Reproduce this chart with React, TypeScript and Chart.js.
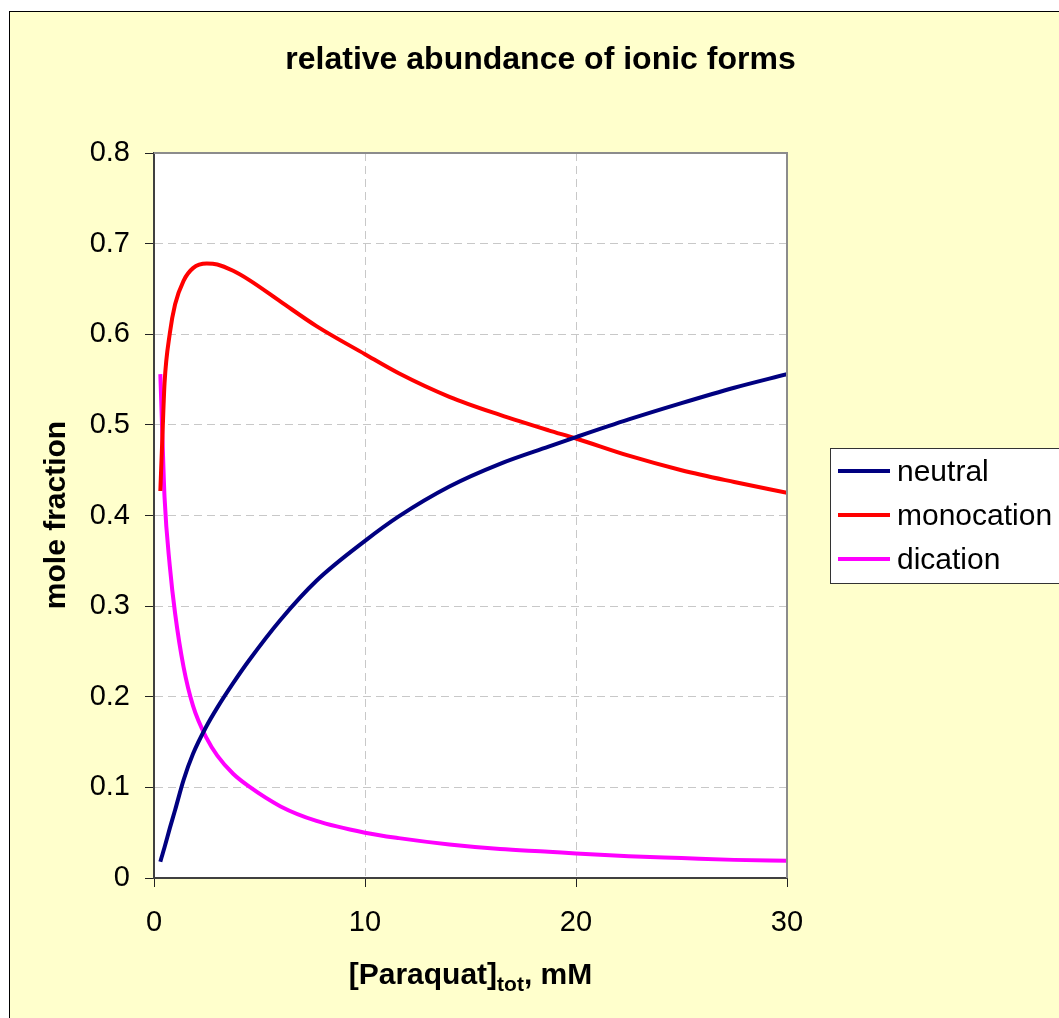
import React, { useEffect, useRef } from "react";
import { Chart, registerables } from "chart.js";

Chart.register(...registerables);

// ---------- data ----------
const concentrationMM = [0.3, 0.4, 0.5, 0.75, 1, 1.4, 1.85, 2.5, 3, 3.75, 4.5, 6, 7.7, 10, 11.6, 14, 16.4, 18.7, 20, 22.5, 25, 27.5, 30];
const neutralFraction = [0.018, 0.026, 0.034, 0.055, 0.075, 0.108, 0.137, 0.168, 0.188, 0.215, 0.24, 0.285, 0.328, 0.372, 0.399, 0.432, 0.457, 0.476, 0.4865, 0.506, 0.524, 0.541, 0.556];
const monocationFraction = [0.427, 0.488, 0.546, 0.601, 0.633, 0.659, 0.673, 0.678, 0.677, 0.67, 0.66, 0.636, 0.609, 0.578, 0.557, 0.531, 0.511, 0.494, 0.485, 0.466, 0.45, 0.437, 0.425];
const dicationFraction = [0.556, 0.486, 0.42, 0.344, 0.292, 0.233, 0.19, 0.154, 0.135, 0.115, 0.101, 0.079, 0.063, 0.05, 0.044, 0.037, 0.032, 0.029, 0.027, 0.024, 0.022, 0.02, 0.019];
const seriesLabels = ["neutral", "monocation", "dication"];
const seriesColors = ["#000080", "#FF0000", "#FF00FF"];
const xAxisRange = [0, 30];
const xTickStep = 10;
const yAxisRange = [0, 0.8];
const yTickStep = 0.1;
const chartTitle = "relative abundance of ionic forms";
const yAxisTitle = "mole fraction";
const xAxisTitleMain = "[Paraquat]";
const xAxisTitleSub = "tot";
const xAxisTitleTail = ", mM";

// ---------- styling ----------
const FONT = '"Liberation Sans", Arial, sans-serif';
const CANVAS_W = 1049;
const CANVAS_H = 1006;

const decorPlugin = {
  id: "decor",
  beforeDraw(chart: any) {
    const { ctx, chartArea: a } = chart;
    ctx.save();
    ctx.fillStyle = "#FFFFFF";
    ctx.fillRect(a.left, a.top, a.right - a.left, a.bottom - a.top);
    ctx.restore();
  },
  afterDraw(chart: any) {
    const { ctx, chartArea: a } = chart;
    ctx.save();
    // top / right frame of the plot area
    ctx.strokeStyle = "#8C8C8C";
    ctx.lineWidth = 2;
    ctx.beginPath();
    ctx.moveTo(a.left, a.top);
    ctx.lineTo(a.right, a.top);
    ctx.lineTo(a.right, a.bottom);
    ctx.stroke();

    ctx.fillStyle = "#000000";
    // chart title
    ctx.font = `bold 32px ${FONT}`;
    ctx.textAlign = "center";
    ctx.textBaseline = "alphabetic";
    ctx.fillText(chartTitle, 530.5, 57);

    // y-axis title
    ctx.save();
    ctx.translate(47, 503);
    ctx.rotate(-Math.PI / 2);
    ctx.textBaseline = "middle";
    ctx.textAlign = "center";
    ctx.font = `bold 30px ${FONT}`;
    ctx.fillText(yAxisTitle, 0, 0);
    ctx.restore();

    // x-axis title with subscript
    const cx = (a.left + a.right) / 2;
    const baseY = 972;
    ctx.textAlign = "left";
    ctx.textBaseline = "alphabetic";
    ctx.font = `bold 30px ${FONT}`;
    const w1 = ctx.measureText(xAxisTitleMain).width;
    const w3 = ctx.measureText(xAxisTitleTail).width;
    ctx.font = `bold 21px ${FONT}`;
    const w2 = ctx.measureText(xAxisTitleSub).width;
    let x = cx - (w1 + w2 + w3) / 2;
    ctx.font = `bold 30px ${FONT}`;
    ctx.fillText(xAxisTitleMain, x, baseY);
    x += w1;
    ctx.font = `bold 21px ${FONT}`;
    ctx.fillText(xAxisTitleSub, x, baseY + 7);
    x += w2;
    ctx.font = `bold 30px ${FONT}`;
    ctx.fillText(xAxisTitleTail, x, baseY);

    // legend
    const lx = 820;
    const ly = 436;
    ctx.fillStyle = "#FFFFFF";
    ctx.fillRect(lx, ly, 300, 135);
    ctx.strokeStyle = "#333333";
    ctx.lineWidth = 1;
    ctx.strokeRect(lx + 0.5, ly + 0.5, 300, 135);
    chart.data.datasets.forEach((ds: any, i: number) => {
      const y = ly + 23 + i * 44;
      ctx.strokeStyle = ds.borderColor;
      ctx.lineWidth = 4;
      ctx.beginPath();
      ctx.moveTo(lx + 8, y);
      ctx.lineTo(lx + 60, y);
      ctx.stroke();
      ctx.fillStyle = "#000000";
      ctx.font = `30px ${FONT}`;
      ctx.textAlign = "left";
      ctx.textBaseline = "middle";
      ctx.fillText(ds.label, lx + 67, y + 2);
    });
    ctx.restore();
  },
};

export default function App() {
  const canvasRef = useRef<HTMLCanvasElement | null>(null);

  useEffect(() => {
    if (!canvasRef.current) return;
    const seriesValues = [neutralFraction, monocationFraction, dicationFraction];
    const chart = new Chart(canvasRef.current, {
      type: "line",
      data: {
        datasets: seriesValues.map((vals, i) => ({
          label: seriesLabels[i],
          data: concentrationMM.map((c, j) => ({ x: c, y: vals[j] })),
          borderColor: seriesColors[i],
          backgroundColor: seriesColors[i],
          borderWidth: 4,
          pointRadius: 0,
          fill: false,
          cubicInterpolationMode: "monotone" as const,
        })),
      },
      options: {
        animation: false,
        responsive: false,
        events: [],
        layout: { padding: { left: 54, right: 272, top: 141, bottom: 60 } },
        plugins: {
          legend: { display: false },
          title: { display: false },
          tooltip: { enabled: false },
        },
        scales: {
          x: {
            type: "linear",
            min: xAxisRange[0],
            max: xAxisRange[1],
            ticks: {
              stepSize: xTickStep,
              font: { family: FONT, size: 29 },
              color: "#000000",
              padding: 19,
              maxRotation: 0,
            },
            grid: { color: "#C8C8C8", lineWidth: 1, tickLength: 9, tickColor: "#222222", tickWidth: 1 },
            border: { color: "#404040", width: 2, dash: [8, 5] },
            afterFit: (s: any) => {
              s.height = 80;
            },
          },
          y: {
            type: "linear",
            min: yAxisRange[0],
            max: yAxisRange[1],
            ticks: {
              stepSize: yTickStep,
              font: { family: FONT, size: 29 },
              color: "#000000",
              padding: 15,
              callback: (v: any) => String(Math.round(Number(v) * 10) / 10),
            },
            grid: { color: "#C8C8C8", lineWidth: 1, tickLength: 9, tickColor: "#222222", tickWidth: 1 },
            border: { color: "#404040", width: 2, dash: [8, 5] },
            afterFit: (s: any) => {
              s.width = 90;
            },
          },
        },
      } as any,
      plugins: [decorPlugin],
    });
    return () => chart.destroy();
  }, []);

  return (
    <div
      style={{
        position: "fixed",
        left: 9,
        top: 11,
        width: 1200,
        height: 1200,
        border: "1px solid #000000",
        background: "#FFFFCC",
        boxSizing: "border-box",
      }}
    >
      <canvas
        ref={canvasRef}
        width={CANVAS_W}
        height={CANVAS_H}
        style={{ position: "absolute", left: 0, top: 0, width: CANVAS_W, height: CANVAS_H, display: "block" }}
      />
    </div>
  );
}
